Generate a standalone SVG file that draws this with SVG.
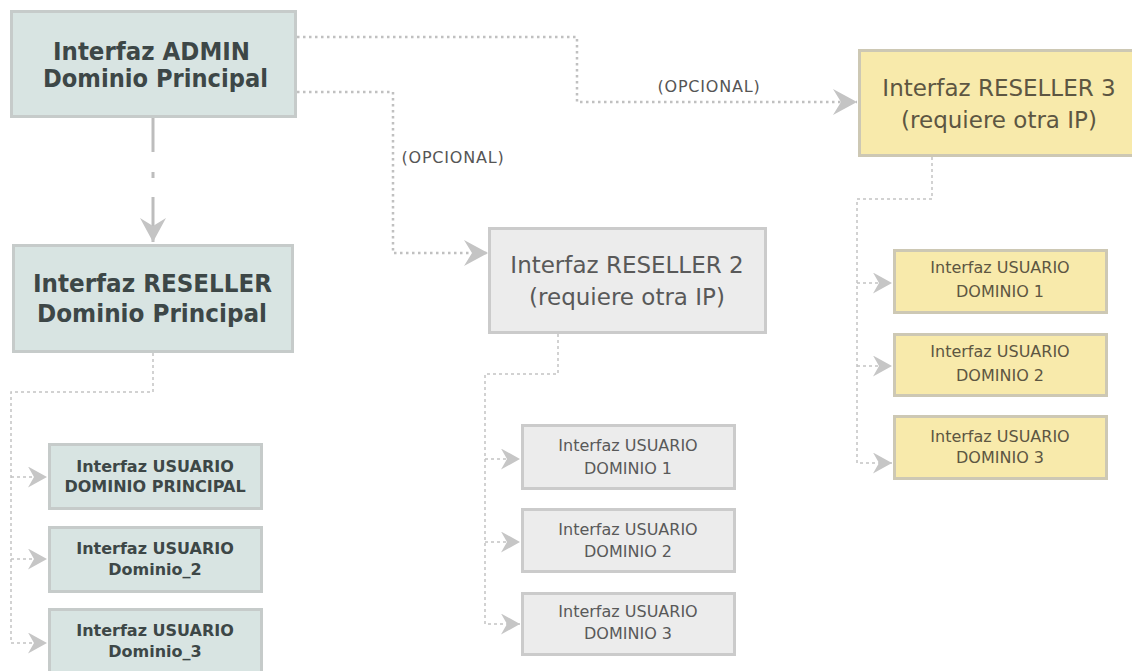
<svg xmlns="http://www.w3.org/2000/svg" width="1132" height="671" viewBox="0 0 1132 671">
<defs>
<style>
.bx-blue{fill:#d8e4e2;stroke:#c6cbca;stroke-width:3}
.bx-gray{fill:#ececec;stroke:#cbcbcb;stroke-width:3}
.bx-yel{fill:#f8eaab;stroke:#cdc8b4;stroke-width:3}
.t-blue{font-family:"DejaVu Sans",sans-serif;font-weight:bold;fill:#3d4747;text-anchor:middle}
.t-gray{font-family:"DejaVu Sans",sans-serif;fill:#595959;text-anchor:middle}
.t-yel{font-family:"DejaVu Sans",sans-serif;fill:#5d5642;text-anchor:middle}
.big{font-size:23px}
.bigb{font-size:25px}
.small{font-size:16px}
.sb{font-size:16px}
.c-top{fill:none;stroke:#c0c0c0;stroke-width:2.5;stroke-dasharray:2.5 3.5}
.c-low{fill:none;stroke:#c4c4c4;stroke-width:1.5;stroke-dasharray:3 3}
.lbl{font-family:"DejaVu Sans",sans-serif;font-size:16px;fill:#555;text-anchor:middle;letter-spacing:0.8px}
</style>
<marker id="arrL" markerUnits="userSpaceOnUse" viewBox="0 0 24 26" markerWidth="24" markerHeight="26" refX="24" refY="13" orient="auto">
<path d="M0,0 L24,13 L0,26 L8,13 Z" fill="#c4c4c4"/>
</marker>
<marker id="arrS" markerUnits="userSpaceOnUse" viewBox="0 0 19 21" markerWidth="19" markerHeight="21" refX="19" refY="10.5" orient="auto">
<path d="M0,0 L19,10.5 L0,21 L6,10.5 Z" fill="#c6c6c6"/>
</marker>
</defs>
<rect width="1132" height="671" fill="#ffffff"/>

<g id="connectors">
<line x1="153" y1="118" x2="153" y2="242" stroke="#bdbdbd" stroke-width="3" stroke-dasharray="34 20 6 19 80" marker-end="url(#arrL)"/>
<path class="c-top" d="M297,37 H577 V102 H857" marker-end="url(#arrL)"/>
<path class="c-top" d="M297,92 H393 V253 H488" marker-end="url(#arrL)"/>
<text class="lbl" x="709" y="92">(OPCIONAL)</text>
<text class="lbl" x="453" y="163">(OPCIONAL)</text>
<path class="c-low" d="M153,353 V392 H11 V643 H47" marker-end="url(#arrS)"/>
<path class="c-low" d="M11,477 H47" marker-end="url(#arrS)"/>
<path class="c-low" d="M11,559 H47" marker-end="url(#arrS)"/>
<path class="c-low" d="M558,334 V374 H485 V624 H520" marker-end="url(#arrS)"/>
<path class="c-low" d="M485,459 H520" marker-end="url(#arrS)"/>
<path class="c-low" d="M485,542 H520" marker-end="url(#arrS)"/>
<path class="c-low" d="M932,157 V199 H857 V463 H892" marker-end="url(#arrS)"/>
<path class="c-low" d="M857,283 H892" marker-end="url(#arrS)"/>
<path class="c-low" d="M857,366 H892" marker-end="url(#arrS)"/>
</g>

<g id="admin">
<rect class="bx-blue" x="11.5" y="11.5" width="284" height="105"/>
<text class="t-blue bigb" x="151.5" y="60" textLength="197" lengthAdjust="spacingAndGlyphs">Interfaz ADMIN</text>
<text class="t-blue bigb" x="155.5" y="87" textLength="225" lengthAdjust="spacingAndGlyphs">Dominio Principal</text>
</g>

<g id="reseller-principal">
<rect class="bx-blue" x="13.5" y="245.5" width="279" height="106"/>
<text class="t-blue bigb" x="152.5" y="292" textLength="239" lengthAdjust="spacingAndGlyphs">Interfaz RESELLER</text>
<text class="t-blue bigb" x="152" y="322" textLength="230" lengthAdjust="spacingAndGlyphs">Dominio Principal</text>
</g>

<g id="usuario-principal">
<rect class="bx-blue" x="49.5" y="444.5" width="212" height="64"/>
<text class="t-blue sb" x="155" y="472">Interfaz USUARIO</text>
<text class="t-blue sb" x="155" y="492">DOMINIO PRINCIPAL</text>
</g>
<g id="usuario-dominio2">
<rect class="bx-blue" x="49.5" y="527.5" width="212" height="64"/>
<text class="t-blue sb" x="155" y="554">Interfaz USUARIO</text>
<text class="t-blue sb" x="155" y="575">Dominio_2</text>
</g>
<g id="usuario-dominio3">
<rect class="bx-blue" x="49.5" y="609.5" width="212" height="70"/>
<text class="t-blue sb" x="155" y="636">Interfaz USUARIO</text>
<text class="t-blue sb" x="155" y="657">Dominio_3</text>
</g>

<g id="reseller2">
<rect class="bx-gray" x="489.5" y="228.5" width="276" height="104"/>
<text class="t-gray big" x="627" y="273">Interfaz RESELLER 2</text>
<text class="t-gray big" x="627" y="305">(requiere otra IP)</text>
</g>
<g id="r2-usuario1">
<rect class="bx-gray" x="522.5" y="425.5" width="212" height="63"/>
<text class="t-gray small" x="628" y="451">Interfaz USUARIO</text>
<text class="t-gray small" x="628" y="474">DOMINIO 1</text>
</g>
<g id="r2-usuario2">
<rect class="bx-gray" x="522.5" y="509.5" width="212" height="62"/>
<text class="t-gray small" x="628" y="535">Interfaz USUARIO</text>
<text class="t-gray small" x="628" y="557">DOMINIO 2</text>
</g>
<g id="r2-usuario3">
<rect class="bx-gray" x="522.5" y="593.5" width="212" height="61"/>
<text class="t-gray small" x="628" y="617">Interfaz USUARIO</text>
<text class="t-gray small" x="628" y="639">DOMINIO 3</text>
</g>

<g id="reseller3">
<rect class="bx-yel" x="859.5" y="50.5" width="280" height="105"/>
<text class="t-yel big" x="999" y="96">Interfaz RESELLER 3</text>
<text class="t-yel big" x="999" y="128">(requiere otra IP)</text>
</g>
<g id="r3-usuario1">
<rect class="bx-yel" x="894.5" y="250.5" width="212" height="62"/>
<text class="t-yel small" x="1000" y="273">Interfaz USUARIO</text>
<text class="t-yel small" x="1000" y="297">DOMINIO 1</text>
</g>
<g id="r3-usuario2">
<rect class="bx-yel" x="894.5" y="334.5" width="212" height="61"/>
<text class="t-yel small" x="1000" y="357">Interfaz USUARIO</text>
<text class="t-yel small" x="1000" y="381">DOMINIO 2</text>
</g>
<g id="r3-usuario3">
<rect class="bx-yel" x="894.5" y="416.5" width="212" height="62"/>
<text class="t-yel small" x="1000" y="442">Interfaz USUARIO</text>
<text class="t-yel small" x="1000" y="463">DOMINIO 3</text>
</g>
</svg>
